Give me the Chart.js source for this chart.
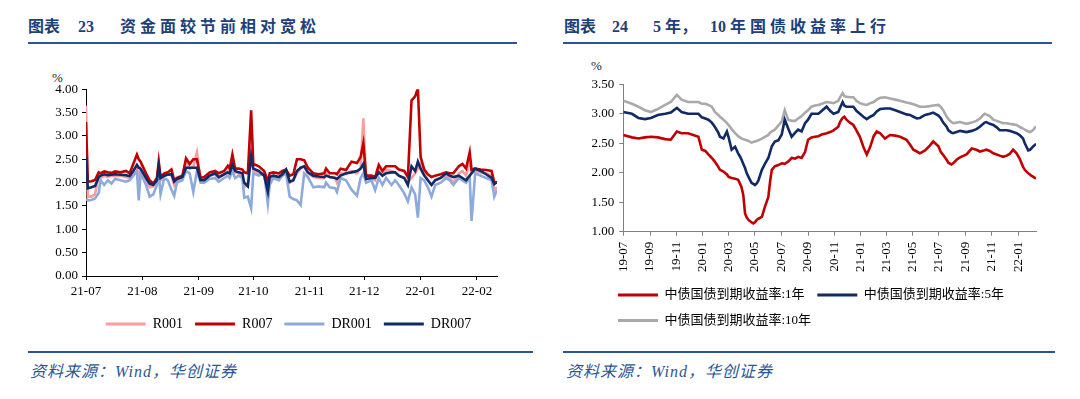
<!DOCTYPE html>
<html>
<head>
<meta charset="utf-8">
<script src="https://cdn.jsdelivr.net/npm/chart.js@4.4.1/dist/chart.umd.min.js"></script>
<style>
body { margin:0; width:1080px; height:399px; background:#fff; position:relative; overflow:hidden;
       font-family:"Liberation Serif","Noto Sans CJK SC",serif; }
.t { position:absolute; top:16px; line-height:22px; font-size:16px; font-weight:bold; color:#1d3f7a; white-space:nowrap; }
.sp { letter-spacing:4px; }
.rule { position:absolute; height:2px; background:#2b5597; }
.src { position:absolute; top:362px; line-height:20px; font-size:16px; font-style:italic; color:#2b5597; letter-spacing:1px; white-space:nowrap; }
.pct { position:absolute; font-size:13px; line-height:14px; color:#222; }
canvas { position:absolute; top:55px; }
</style>
</head>
<body>
<div class="t" style="left:28px">图表</div>
<div class="t" style="left:78px">23</div>
<div class="t sp" style="left:120px">资金面较节前相对宽松</div>
<div class="rule" style="left:28px;top:42px;width:489px"></div>

<div class="t" style="left:564px">图表</div>
<div class="t" style="left:612px">24</div>
<div class="t" style="left:653px">5 年，</div>
<div class="t" style="left:710px">10</div>
<div class="t sp" style="left:730px">年国债收益率上行</div>
<div class="rule" style="left:563px;top:42px;width:489px"></div>

<div class="pct" style="left:52px;top:71px">%</div>
<div class="pct" style="left:591px;top:59px">%</div>

<canvas id="left" width="540" height="290" style="left:0"></canvas>
<canvas id="right" width="530" height="290" style="left:550px"></canvas>

<div class="rule" style="left:28px;top:351px;width:505px"></div>
<div class="rule" style="left:563px;top:351px;width:492px"></div>
<div class="src" style="left:30px">资料来源：Wind，华创证券</div>
<div class="src" style="left:566px">资料来源：Wind，华创证券</div>

<script>
// 左图：资金利率，横轴为自 2021-07-01 起的天数
const leftDays = [0,1,3,5,7,8,10,12,14,16,
  19,22,24,26,28,29,30,33,35,37,
  39,40,41,43,45,47,48.5,50,53,55,
  57,59,61,63,65,68,71,73,76,78,
  79,80.5,82,84,86,87,89,90.8,92,95,
  98,100,101,103,106,108,110,112,114,116,
  118,120,122,125,128,131,132,134,137,138,
  140,143,146,149,151,152.5,154,157,159,161,
  163,165,168,170,172,175,177,179,181,182.5,
  184,186,188,190,192,195,198,200,202,205,
  207,209,211,212,214,217,220,223,224.5,226];
const r001 = [3.65,1.70,1.70,1.75,2.15,2.10,2.15,2.12,2.15,2.14,
  2.15,2.12,2.10,2.25,2.35,1.95,2.30,2.05,1.90,1.92,
  2.05,2.40,2.05,2.15,2.20,2.15,1.95,2.05,2.10,2.45,
  2.30,2.35,2.65,2.05,2.08,2.15,2.18,2.10,2.18,2.25,
  2.20,2.45,2.22,2.20,2.15,1.90,2.00,3.20,2.25,2.20,
  2.15,1.85,2.05,2.15,2.12,2.20,2.22,2.00,2.05,2.20,
  2.30,2.35,2.20,2.12,2.10,2.10,2.20,2.12,2.10,2.00,
  2.20,2.18,2.25,2.20,2.30,3.38,2.10,2.10,2.05,2.30,
  2.15,2.28,2.25,2.22,2.15,2.10,2.00,2.10,2.20,2.30,
  2.40,2.20,2.05,1.95,2.05,2.10,2.15,2.10,2.00,2.20,
  2.25,2.15,2.50,2.20,2.25,2.22,2.20,2.15,1.85,1.90];
const r007 = [3.30,2.02,2.03,2.06,2.22,2.20,2.24,2.22,2.21,2.24,
  2.22,2.25,2.20,2.40,2.60,2.50,2.45,2.20,2.05,1.98,
  2.10,2.45,2.12,2.20,2.22,2.28,2.05,2.10,2.15,2.52,
  2.40,2.50,2.50,2.10,2.12,2.22,2.25,2.20,2.25,2.36,
  2.30,2.60,2.30,2.30,2.28,2.22,2.20,3.55,2.40,2.35,
  2.25,2.02,2.20,2.22,2.20,2.25,2.28,2.15,2.18,2.50,
  2.50,2.48,2.32,2.20,2.18,2.20,2.30,2.20,2.20,2.18,
  2.30,2.27,2.45,2.42,2.55,2.84,2.15,2.15,2.12,2.38,
  2.25,2.35,2.35,2.35,2.28,2.25,2.12,3.76,3.85,4.02,
  2.55,2.28,2.18,2.12,2.15,2.18,2.22,2.20,2.20,2.35,
  2.40,2.30,2.65,2.28,2.30,2.28,2.27,2.25,2.00,2.00];
const dr001 = [1.65,1.62,1.63,1.66,1.78,2.05,1.95,2.05,1.98,2.08,
  2.05,2.02,2.05,2.15,2.25,1.62,2.20,1.95,1.70,1.75,
  1.95,2.20,1.75,2.10,2.05,1.85,1.72,2.00,2.05,2.25,
  2.20,1.80,2.25,2.00,2.00,2.08,2.10,2.02,2.10,2.15,
  2.10,2.25,2.10,2.15,2.10,1.68,1.70,1.45,2.20,2.15,
  2.20,1.55,1.95,2.10,2.05,2.15,2.20,1.70,1.65,1.62,
  1.52,2.20,2.12,1.90,1.92,1.90,2.00,1.90,1.88,1.80,
  2.10,2.05,1.85,1.72,2.10,2.20,2.00,2.05,1.84,2.10,
  1.95,2.10,1.95,2.05,1.95,1.77,1.60,1.90,1.75,1.25,
  2.10,2.05,1.90,1.70,1.95,2.00,2.10,2.05,1.95,2.10,
  2.05,2.00,2.10,1.18,2.20,2.15,2.10,2.05,1.70,1.85];
const dr007 = [2.55,1.88,1.90,1.93,2.12,2.15,2.18,2.16,2.17,2.18,
  2.17,2.16,2.14,2.25,2.38,2.32,2.30,2.10,1.98,1.95,
  2.05,2.35,2.10,2.15,2.17,2.18,2.02,2.08,2.12,2.32,
  2.32,2.32,2.32,2.05,2.05,2.15,2.20,2.12,2.18,2.22,
  2.20,2.38,2.25,2.22,2.20,2.00,1.92,2.57,2.30,2.25,
  2.15,1.81,2.12,2.15,2.12,2.18,2.28,2.02,2.05,2.25,
  2.32,2.35,2.22,2.15,2.13,2.12,2.15,2.12,2.10,2.08,
  2.15,2.20,2.22,2.25,2.30,2.40,2.08,2.10,2.10,2.22,
  2.15,2.20,2.22,2.22,2.15,2.10,1.95,2.35,2.25,2.45,
  2.30,2.15,2.05,1.95,2.05,2.10,2.20,2.15,2.12,2.15,
  2.10,2.05,2.15,2.20,2.30,2.25,2.18,2.10,1.97,2.02];
const leftTickDays = [0,31,62,92,123,153,184,215];
const leftTickLabels = ['21-07','21-08','21-09','21-10','21-11','21-12','22-01','22-02'];

// 右图：国债到期收益率，横轴为自 2019-07-01 起的天数
const rightDays = [0,20,35,50,64,80,97,110,124,135,
  150,174,182,190,197,205,212,220,224,232,
  240,244,251,259,266,270,274,278,282,286,
  290,297,301,305,309,313,321,328,336,340,
  344,351,359,367,374,382,390,398,405,413,
  421,428,436,444,452,460,471,479,487,498,
  502,508,512,517,525,533,540,548,556,564,
  572,580,587,595,606,618,630,641,656,664,
  672,680,687,699,710,718,730,735,741,749,
  753,760,764,772,780,795,807,818,826,837,
  841,849,857,865,872,880,888,895,903,911,
  918,926,930,938,942,945,950,956];
const cgb1y = [2.64,2.60,2.58,2.60,2.61,2.60,2.57,2.56,2.70,2.67,
  2.67,2.61,2.39,2.37,2.31,2.25,2.19,2.10,2.05,2.02,
  1.97,1.93,1.91,1.90,1.88,1.82,1.75,1.62,1.31,1.24,
  1.20,1.16,1.14,1.16,1.20,1.22,1.25,1.42,1.59,1.85,
  2.05,2.11,2.13,2.16,2.15,2.19,2.25,2.24,2.27,2.25,
  2.35,2.56,2.60,2.61,2.62,2.65,2.67,2.69,2.72,2.78,
  2.86,2.93,2.95,2.90,2.85,2.81,2.72,2.61,2.44,2.31,
  2.44,2.62,2.70,2.67,2.58,2.64,2.63,2.61,2.56,2.48,
  2.39,2.36,2.33,2.38,2.46,2.53,2.45,2.36,2.30,2.22,
  2.17,2.14,2.16,2.22,2.26,2.31,2.41,2.39,2.36,2.38,
  2.39,2.37,2.33,2.31,2.29,2.27,2.29,2.32,2.39,2.33,
  2.24,2.10,2.05,1.99,1.97,1.95,1.93,1.90];
const cgb5y = [3.03,3.00,2.93,2.91,2.93,2.98,3.00,3.02,3.10,3.03,
  3.00,3.00,2.94,2.92,2.90,2.85,2.78,2.68,2.61,2.58,
  2.70,2.60,2.39,2.44,2.33,2.28,2.22,2.15,2.08,1.99,
  1.93,1.83,1.81,1.79,1.82,1.87,2.05,2.15,2.25,2.35,
  2.45,2.53,2.55,2.65,2.90,2.75,2.61,2.68,2.73,2.70,
  2.84,2.90,3.00,3.00,3.00,3.05,3.12,3.05,3.00,3.03,
  3.10,3.20,3.14,3.12,3.12,3.12,3.05,3.00,2.95,2.91,
  2.95,2.98,3.04,3.08,3.09,3.09,3.06,3.03,2.99,2.98,
  2.95,2.92,2.93,2.98,3.00,3.02,2.97,2.93,2.85,2.78,
  2.72,2.68,2.67,2.69,2.71,2.69,2.71,2.74,2.78,2.85,
  2.86,2.83,2.81,2.77,2.72,2.72,2.72,2.71,2.69,2.67,
  2.64,2.58,2.50,2.38,2.39,2.41,2.45,2.49];
const cgb10y = [3.22,3.17,3.12,3.06,3.03,3.08,3.15,3.20,3.32,3.24,
  3.20,3.20,3.17,3.17,3.15,3.12,3.03,2.98,2.95,2.90,
  2.84,2.81,2.74,2.67,2.62,2.60,2.58,2.57,2.56,2.55,
  2.54,2.51,2.52,2.53,2.54,2.55,2.58,2.61,2.64,2.68,
  2.70,2.73,2.80,2.87,3.06,2.90,2.88,2.88,2.92,2.96,
  3.02,3.06,3.12,3.14,3.15,3.17,3.20,3.19,3.18,3.22,
  3.28,3.35,3.30,3.29,3.28,3.28,3.22,3.18,3.16,3.15,
  3.18,3.20,3.24,3.27,3.28,3.26,3.24,3.22,3.19,3.18,
  3.16,3.14,3.12,3.12,3.13,3.14,3.15,3.12,3.06,2.95,
  2.91,2.86,2.84,2.85,2.86,2.83,2.85,2.88,2.92,3.00,
  2.99,2.96,2.90,2.88,2.86,2.84,2.84,2.83,2.82,2.81,
  2.78,2.75,2.73,2.70,2.69,2.70,2.73,2.79];
const rightTickDays = [0,62,123,184,244,305,366,428,489,550,609,670,731,793,854,915];
const rightTickLabels = ['19-07','19-09','19-11','20-01','20-03','20-05','20-07','20-09',
  '20-11','21-01','21-03','21-05','21-07','21-09','21-11','22-01'];

Chart.defaults.font.family = '"Liberation Serif", "Noto Sans CJK SC", serif';
Chart.defaults.color = '#000';

const pts = (xs, ys) => xs.map((x, i) => ({x: x, y: ys[i]}));
// 图例画成细线
const legendLines = c => Chart.defaults.plugins.legend.labels.generateLabels(c)
  .map(l => Object.assign(l, {fillStyle: l.strokeStyle, lineWidth: 0}));
const byIndex = (a, b) => a.datasetIndex - b.datasetIndex;
// 图例整体左右挪一点
const legendShift = {
  id: 'legendShift',
  afterLayout(chart, args, opts) {
    if (chart.legend && opts.dx) { chart.legend.left += opts.dx; chart.legend.right += opts.dx; }
  }
};

new Chart(document.getElementById('left'), {
  type: 'line',
  data: {
    datasets: [
      {label: 'R001', data: pts(leftDays, r001), borderColor: '#ff9c9c', order: 3},
      {label: 'R007', data: pts(leftDays, r007), borderColor: '#c00000', order: 1},
      {label: 'DR001', data: pts(leftDays, dr001), borderColor: '#8eaadc', order: 2},
      {label: 'DR007', data: pts(leftDays, dr007), borderColor: '#0f2a66', order: 0}
    ]
  },
  plugins: [legendShift],
  options: {
    responsive: false,
    animation: false,
    layout: {padding: {left: 20, right: 43, top: 34.3, bottom: 4}},
    elements: {point: {radius: 0}, line: {borderWidth: 2.6, tension: 0}},
    plugins: {
      tooltip: {enabled: false},
      legendShift: {dx: -3},
      legend: {
        position: 'bottom',
        fullSize: false,
        labels: {boxWidth: 40, boxHeight: 3, padding: 12, font: {size: 14},
                 generateLabels: legendLines, sort: byIndex}
      }
    },
    scales: {
      x: {
        type: 'linear', min: 0, max: 226,
        afterBuildTicks: s => { s.ticks = leftTickDays.map(v => ({value: v})); },
        afterFit: s => { s.height = 29; },
        ticks: {autoSkip: false, maxRotation: 0, padding: 4, font: {size: 13},
                callback: v => leftTickLabels[leftTickDays.indexOf(v)]},
        grid: {drawOnChartArea: false, tickLength: 4, color: '#000'},
        border: {color: '#000'}
      },
      y: {
        min: 0, max: 4,
        afterFit: s => { s.width = 66; },
        ticks: {stepSize: 0.5, padding: 4, font: {size: 13}, callback: v => v.toFixed(2)},
        grid: {drawOnChartArea: false, tickLength: 4, color: '#000'},
        border: {color: '#000'}
      }
    }
  }
});

new Chart(document.getElementById('right'), {
  type: 'line',
  data: {
    datasets: [
      {label: '中债国债到期收益率:1年', data: pts(rightDays, cgb1y), borderColor: '#c00000'},
      {label: '中债国债到期收益率:5年', data: pts(rightDays, cgb5y), borderColor: '#0f2a66'},
      {label: '中债国债到期收益率:10年', data: pts(rightDays, cgb10y), borderColor: '#a9a9a9'}
    ]
  },
  plugins: [legendShift],
  options: {
    responsive: false,
    animation: false,
    layout: {padding: {left: 28.3, right: 44, top: 29.3, bottom: 7.9}},
    elements: {point: {radius: 0}, line: {borderWidth: 2.6, tension: 0}},
    plugins: {
      tooltip: {enabled: false},
      legendShift: {dx: 27},
      legend: {
        position: 'bottom',
        align: 'start',
        labels: {boxWidth: 40, boxHeight: 3, padding: 12.7, font: {size: 13},
                 generateLabels: legendLines}
      }
    },
    scales: {
      x: {
        type: 'linear', min: 0, max: 956,
        afterBuildTicks: s => { s.ticks = rightTickDays.map(v => ({value: v})); },
        afterFit: s => { s.height = 44; },
        ticks: {autoSkip: false, minRotation: 90, maxRotation: 90, padding: 6, font: {size: 13},
                callback: v => rightTickLabels[rightTickDays.indexOf(v)]},
        grid: {drawOnChartArea: false, tickLength: 4, color: '#808080'},
        border: {color: '#808080'}
      },
      y: {
        min: 1, max: 3.5,
        afterFit: s => { s.width = 45; },
        ticks: {stepSize: 0.5, padding: 5, font: {size: 13}, callback: v => v.toFixed(2)},
        grid: {drawOnChartArea: false, tickLength: 4, color: '#808080'},
        border: {color: '#808080'}
      }
    }
  }
});
</script>
</body>
</html>
